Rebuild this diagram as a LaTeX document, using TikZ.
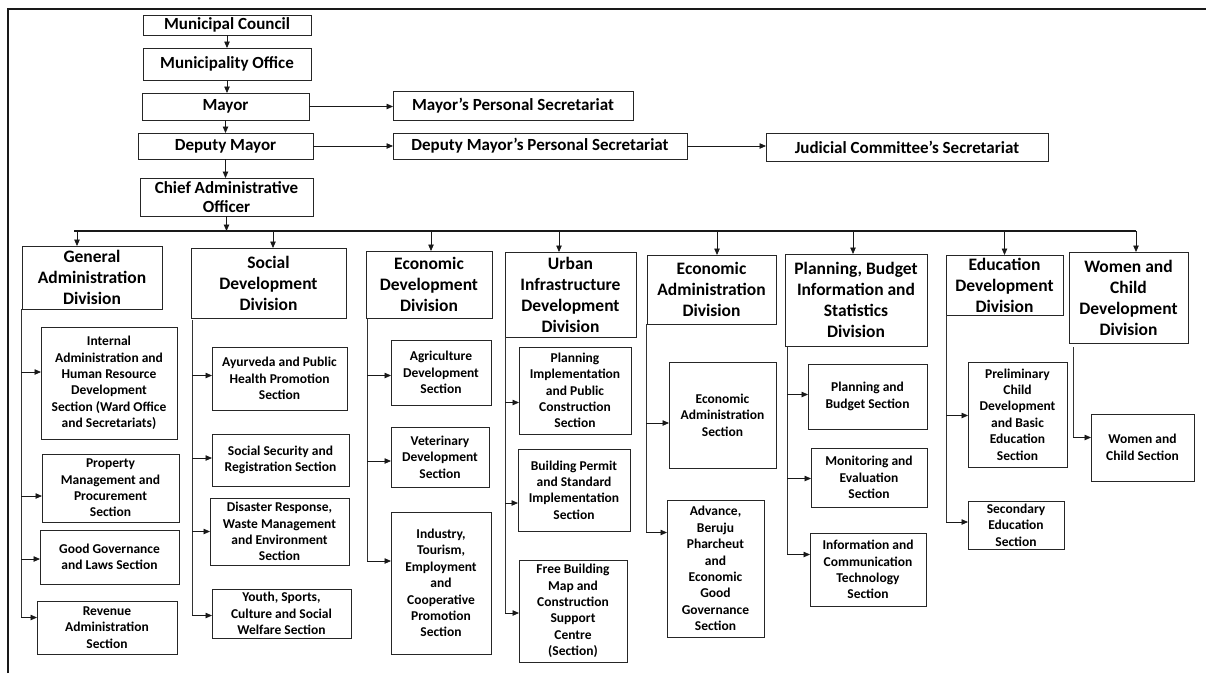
\documentclass[tikz,border=0pt]{standalone}
\usepackage{fontspec}
\setmainfont{Carlito}
\usetikzlibrary{arrows.meta}
\newcommand\bx[7]{%
  \node[#6, minimum width={(#4-#2)*1pt}, minimum height={(#5-#3)*1pt}]
    (#1) at ({(#2+#4)/2},{(#3+#5)/2}) {#7};}
\tikzset{
  box/.style={draw=black!85, line width=0.9pt, inner sep=0pt, outer sep=0pt, align=center},
  topbox/.style={box, font=\fontsize{17}{19}\selectfont\bfseries},
  divbox/.style={box, font=\fontsize{17.5}{21}\selectfont\bfseries},
  secbox/.style={box, font=\fontsize{13.5}{16.4}\selectfont\bfseries},
  arr/.style={-{Triangle[length=6.5pt,width=5.5pt]}, line width=0.8pt, draw=black!90},
  trunk/.style={line width=0.8pt, draw=black!80},
  busline/.style={line width=1.8pt, draw=black!90},
  frameline/.style={line width=1.5pt, draw=black!90},
}
\begin{document}
\begin{tikzpicture}[x=1pt,y=-1pt]
\useasboundingbox (0,0) rectangle (1206,673);
\draw[frameline] (8,673) -- (8,9) -- (1206,9);

% top chain
\bx{MC}{143}{15}{311}{35}{topbox}{Municipal Council}
\bx{MO}{143}{48}{311}{80}{topbox}{Municipality Office}
\bx{MY}{142}{93}{309}{120}{topbox}{Mayor}
\bx{MPS}{393}{91}{633}{120}{topbox}{Mayor’s Personal Secretariat}
\bx{DM}{138}{133}{313}{159}{topbox}{Deputy Mayor}
\bx{DMPS}{393}{133}{687}{159}{topbox}{Deputy Mayor’s Personal Secretariat}
\bx{JCS}{766}{133}{1048}{161}{topbox}{Judicial Committee’s Secretariat}
\bx{CAO}{140}{178}{313}{216}{topbox}{Chief Administrative\\Officer}

\draw[arr] (MC.south) -- (MC.south |- MO.north);
\draw[arr] (MO.south) -- (MO.south |- MY.north);
\draw[arr] (MY.south) -- (MY.south |- DM.north);
\draw[arr] (DM.south) -- (DM.south |- CAO.north);
\draw[arr] (MY.east) -- (MY.east -| MPS.west);
\draw[arr] (DM.east) -- (DM.east -| DMPS.west);
\draw[arr] (DMPS.east) -- (DMPS.east -| JCS.west);

% divisions
\bx{GAD}{22}{246}{162}{309}{divbox}{General\\Administration\\Division}
\bx{SDD}{191}{248}{346}{318}{divbox}{Social\\Development\\Division}
\bx{EDD}{366}{251}{492}{318}{divbox}{Economic\\Development\\Division}
\bx{UID}{505}{252}{636}{337}{divbox}{Urban\\Infrastructure\\Development\\Division}
\bx{EAD}{647}{255}{776}{324}{divbox}{Economic\\Administration\\Division}
\bx{PBD}{785}{254}{927}{346}{divbox}{Planning, Budget\\Information and\\Statistics\\Division}
\bx{EDU}{946}{255}{1063}{315}{divbox}{Education\\Development\\Division}
\bx{WCD}{1069}{252}{1188}{343}{divbox}{Women and\\Child\\Development\\Division}

% bus
\coordinate (busL) at (74,231);
\coordinate (busR) at (1136,231);
\draw[busline] (busL) -- (busR);
\draw[arr] (CAO.south) -- (CAO.south |- busL);
\coordinate (tGAD) at ([xshift=-15pt]GAD.north);
\coordinate (tSDD) at ([xshift=4.5pt]SDD.north);
\coordinate (tEDD) at ([xshift=2pt]EDD.north);
\coordinate (tUID) at ([xshift=-11.5pt]UID.north);
\coordinate (tEAD) at ([xshift=5.5pt]EAD.north);
\coordinate (tPBD) at ([xshift=-3pt]PBD.north);
\coordinate (tEDU) at (EDU.north);
\coordinate (tWCD) at ([xshift=7.5pt]WCD.north);
\foreach \t in {tGAD,tSDD,tEDD,tUID,tEAD,tPBD,tEDU,tWCD}
  \draw[arr] (\t |- busL) -- (\t);

% sections: General Administration
\bx{IAHR}{41}{327}{177}{439}{secbox}{Internal\\Administration and\\Human Resource\\Development\\Section (Ward Office\\and Secretariats)}
\bx{PMP}{42}{454}{179}{522}{secbox}{Property\\Management and\\Procurement\\Section}
\bx{GGL}{40}{530}{179}{584}{secbox}{Good Governance\\and Laws Section}
\bx{RAS}{37}{601}{177}{654}{secbox}{Revenue\\Administration\\Section}
% Social
\bx{AYU}{212}{347}{347}{410}{secbox}{Ayurveda and Public\\Health Promotion\\Section}
\bx{SSR}{212}{434}{349}{486}{secbox}{Social Security and\\Registration Section}
\bx{DRW}{210}{498}{349}{565}{secbox}{Disaster Response,\\Waste Management\\and Environment\\Section}
\bx{YSC}{212}{589}{351}{638}{secbox}{Youth, Sports,\\Culture and Social\\Welfare Section}
% Economic development
\bx{AGR}{391}{340}{491}{405}{secbox}{Agriculture\\Development\\Section}
\bx{VET}{391}{427}{489}{487}{secbox}{Veterinary\\Development\\Section}
\bx{IND}{391}{512}{491}{654}{secbox}{Industry,\\Tourism,\\Employment\\and\\Cooperative\\Promotion\\Section}
% Urban
\bx{PIPC}{519}{347}{631}{434}{secbox}{Planning\\Implementation\\and Public\\Construction\\Section}
\bx{BPSI}{518}{449}{630}{531}{secbox}{Building Permit\\and Standard\\Implementation\\Section}
\bx{FBMC}{519}{560}{627}{662}{secbox}{Free Building\\Map and\\Construction\\Support\\Centre\\(Section)}
% Economic administration
\bx{EAS}{669}{362}{776}{468}{secbox}{Economic\\Administration\\Section}
\bx{ABP}{667}{500}{764}{637}{secbox}{Advance,\\Beruju\\Pharcheut\\and\\Economic\\Good\\Governance\\Section}
% Planning
\bx{PBS}{808}{364}{927}{429}{secbox}{Planning and\\Budget Section}
\bx{MES}{811}{448}{927}{507}{secbox}{Monitoring and\\Evaluation\\Section}
\bx{ICT}{810}{533}{926}{606}{secbox}{Information and\\Communication\\Technology\\Section}
% Education
\bx{PCD}{968}{362}{1067}{467}{secbox}{Preliminary\\Child\\Development\\and Basic\\Education\\Section}
\bx{SES}{968}{501}{1064}{549}{secbox}{Secondary\\Education\\Section}
% Women
\bx{WCS}{1091}{414}{1194}{481}{secbox}{Women and\\Child Section}

% trunk start points
\coordinate (sGAD) at ([xshift=-1pt]GAD.south west);
\coordinate (sSDD) at ([xshift=1pt,yshift=-2pt]SDD.south west);
\coordinate (sEDD) at ([xshift=1pt]EDD.south west);
\coordinate (sUID) at (UID.south west);
\coordinate (sEAD) at ([xshift=-1pt]EAD.south west);
\coordinate (sPBD) at ([xshift=2pt]PBD.south west);
\coordinate (sEDU) at (EDU.south west);
\coordinate (sWCD) at ([xshift=4pt,yshift=-4pt]WCD.south west);

% branch end points
\coordinate (bIAHR) at ([yshift=11pt]IAHR.west);
\coordinate (bPMP) at ([yshift=-8pt]PMP.west);
\coordinate (bGGL) at ([yshift=-2pt]GGL.west);
\coordinate (bRAS) at ([yshift=10pt]RAS.west);
\coordinate (bAYU) at ([yshift=3pt]AYU.west);
\coordinate (bSSR) at ([yshift=2pt]SSR.west);
\coordinate (bDRW) at (DRW.west);
\coordinate (bYSC) at ([yshift=-2pt]YSC.west);
\coordinate (bAGR) at ([yshift=-3pt]AGR.west);
\coordinate (bVET) at ([yshift=-4pt]VET.west);
\coordinate (bIND) at ([yshift=22pt]IND.west);
\coordinate (bPIPC) at ([yshift=-12pt]PIPC.west);
\coordinate (bBPSI) at ([yshift=-13pt]BPSI.west);
\coordinate (bFBMC) at ([yshift=-2pt]FBMC.west);
\coordinate (bEAS) at ([yshift=-8pt]EAS.west);
\coordinate (bABP) at ([yshift=36pt]ABP.west);
\coordinate (bPBS) at ([yshift=2pt]PBS.west);
\coordinate (bMES) at ([yshift=-1pt]MES.west);
\coordinate (bICT) at ([yshift=15pt]ICT.west);
\coordinate (bPCD) at ([yshift=-1pt]PCD.west);
\coordinate (bSES) at ([yshift=3pt]SES.west);
\coordinate (bWCS) at ([yshift=10pt]WCS.west);

% trunks
\draw[trunk] (sGAD) -- (sGAD |- bRAS);
\draw[trunk] (sSDD) -- (sSDD |- bYSC);
\draw[trunk] (sEDD) -- (sEDD |- bIND);
\draw[trunk] (sUID) -- (sUID |- bFBMC);
\draw[trunk] (sEAD) -- (sEAD |- bABP);
\draw[trunk] (sPBD) -- (sPBD |- bICT);
\draw[trunk] (sEDU) -- (sEDU |- bSES);
\draw[trunk] (sWCD) -- (sWCD |- bWCS);

% branches
\foreach \s/\b in {sGAD/bIAHR,sGAD/bPMP,sGAD/bGGL,sGAD/bRAS,
                   sSDD/bAYU,sSDD/bSSR,sSDD/bDRW,sSDD/bYSC,
                   sEDD/bAGR,sEDD/bVET,sEDD/bIND,
                   sUID/bPIPC,sUID/bBPSI,sUID/bFBMC,
                   sEAD/bEAS,sEAD/bABP,
                   sPBD/bPBS,sPBD/bMES,sPBD/bICT,
                   sEDU/bPCD,sEDU/bSES,
                   sWCD/bWCS}
  \draw[arr] (\s |- \b) -- (\b);
\end{tikzpicture}
\end{document}
